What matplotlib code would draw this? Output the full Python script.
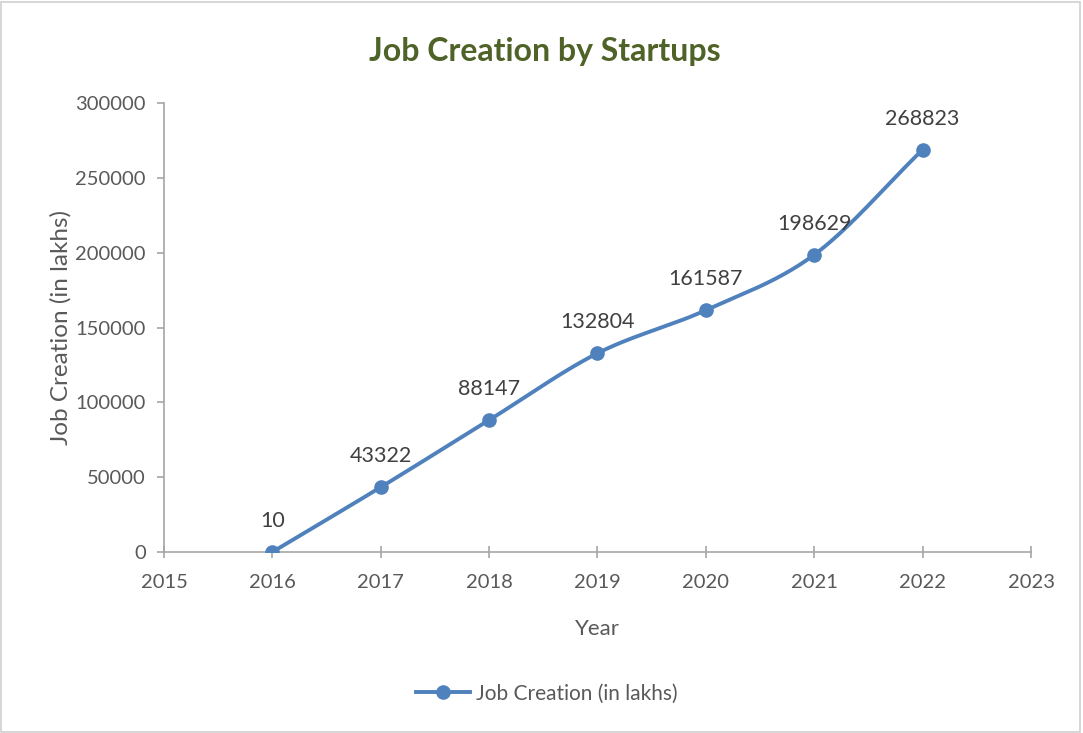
import numpy as np
import matplotlib
matplotlib.use("Agg")
import matplotlib.pyplot as plt
from matplotlib.patches import Rectangle

years = [2016, 2017, 2018, 2019, 2020, 2021, 2022]
jobs = [10, 43322, 88147, 132804, 161587, 198629, 268823]
series_name = "Job Creation (in lakhs)"
title = "Job Creation by Startups"

plt.rcParams['font.family'] = ['Lato', 'DejaVu Sans']

line_color = "#4F81BD"
text_color = "#595959"
axis_color = "#A6A6A6"


def smooth_curve(x, y, steps=40):
    """Catmull-Rom style smoothing through the given points."""
    x = np.asarray(x, float)
    y = np.asarray(y, float)
    px = np.concatenate([[2 * x[0] - x[1]], x, [2 * x[-1] - x[-2]]])
    py = np.concatenate([[2 * y[0] - y[1]], y, [2 * y[-1] - y[-2]]])
    xs, ys = [], []
    for i in range(1, len(px) - 2):
        p0, p1, p2, p3 = (np.array([px[j], py[j]]) for j in range(i - 1, i + 3))
        c1 = p1 + (p2 - p0) / 6.0
        c2 = p2 - (p3 - p1) / 6.0
        t = np.linspace(0, 1, steps)[:, None]
        pts = ((1 - t) ** 3) * p1 + 3 * ((1 - t) ** 2) * t * c1 + 3 * (1 - t) * t ** 2 * c2 + t ** 3 * p2
        xs.append(pts[:, 0])
        ys.append(pts[:, 1])
    return np.concatenate(xs), np.concatenate(ys)


fig = plt.figure(figsize=(10.83, 7.33), dpi=100)
fig.patch.set_facecolor("white")
fig.add_artist(Rectangle((0.001, 0.002), 0.996, 0.995, transform=fig.transFigure,
                         fill=False, edgecolor="#D0D0D0", linewidth=1.2))

ax = fig.add_axes([0.1514, 0.2469, 0.8006, 0.6126])
sx, sy = smooth_curve(years, jobs)
ax.plot(sx, sy, color=line_color, linewidth=2.8, solid_capstyle="round", zorder=3)
ax.plot(years, jobs, linestyle="none", marker="o", markersize=9.5, color=line_color, zorder=4)
ax.plot([], [], color=line_color, linewidth=2.8, marker="o", markersize=9.5, label=series_name)

for xv, yv in zip(years, jobs):
    ax.annotate(f"{yv}", (xv, yv), xytext=(0, 15), textcoords="offset points",
                ha="center", va="bottom", fontsize=15.5, color="#404040")

ax.set_xlim(2015, 2023)
ax.set_ylim(0, 300000)
ax.set_xticks(range(2015, 2024))
ax.set_yticks(range(0, 300001, 50000))
ax.tick_params(axis="both", colors=axis_color, labelcolor=text_color, labelsize=14.5,
               length=5, width=1.2)
ax.tick_params(axis="x", direction="inout", length=8, pad=12)
ax.tick_params(axis="y", direction="out", pad=8)
for side in ["top", "right"]:
    ax.spines[side].set_visible(False)
for side in ["left", "bottom"]:
    ax.spines[side].set_color(axis_color)
    ax.spines[side].set_linewidth(1.2)

ax.set_xlabel("Year", fontsize=16, color=text_color, labelpad=20)
ax.set_ylabel(series_name, fontsize=17.5, color=text_color, labelpad=3)

fig.text(0.503, 0.93, title, ha="center", va="center", fontsize=23,
         fontweight="bold", color="#4F6228")

fig.legend(loc="center", bbox_to_anchor=(0.505, 0.054), frameon=False,
           fontsize=15, labelcolor=text_color, handlelength=2.6, handletextpad=0.3)

fig.savefig("out.png", dpi=100, facecolor="white")
